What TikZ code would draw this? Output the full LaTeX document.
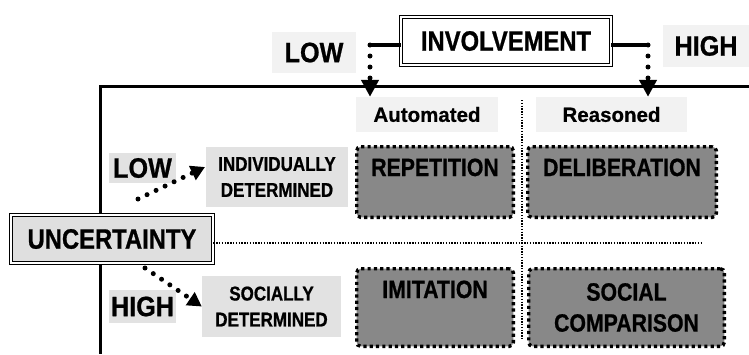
\documentclass[tikz,border=0pt]{standalone}
\usepackage{fontspec}
\setmainfont{Liberation Sans}[FakeBold=0.6]
\newfontfamily\cf{Liberation Sans}[FakeStretch=0.85,FakeBold=0.8]
\newfontfamily\cfl{Liberation Sans}[FakeStretch=0.9,FakeBold=0.8]
\usetikzlibrary{arrows.meta}
\definecolor{lightbg}{HTML}{F2F2F2}
\definecolor{midbg}{HTML}{E2E2E2}
\definecolor{uncbg}{HTML}{DFDFDF}
\definecolor{boxgray}{HTML}{888888}
\begin{document}
\begin{tikzpicture}[x=1pt,y=-1pt,
  frame/.style={line width=3pt},
  conn/.style={line width=3.2pt},
  dotarrow/.style={line width=5pt, line cap=round, dash pattern=on 0pt off 11pt,
    -{Triangle[length=17pt,width=17pt]}},
  dotarrowsm/.style={line width=5pt, line cap=round, dash pattern=on 0pt off 10pt,
    -{Triangle[length=14pt,width=15pt]}},
  thindot/.style={line width=1.6pt, dash pattern=on 1.4pt off 1.4pt},
  dbl/.style={draw=black, line width=1.1pt, double distance=2pt, inner sep=0pt,
    font=\cf\bfseries\fontsize{28}{30}\selectfont},
  bglabel/.style={inner sep=0pt, font=\cfl\bfseries\fontsize{28}{30}\selectfont},
  sublabel/.style={inner sep=0pt, fill=lightbg, font=\bfseries\fontsize{20.5}{22}\selectfont},
  deter/.style={inner sep=0pt, fill=midbg, align=center,
    font=\cf\bfseries\fontsize{20}{26}\selectfont},
  cell/.style={draw=black, fill=boxgray, line width=3.4pt, dash pattern=on 3.2pt off 3.1pt,
    rounded corners=4pt, inner sep=0pt, align=center, text height=18pt,
    font=\cf\bfseries\fontsize{25}{31}\selectfont},
]
\useasboundingbox (0,0) rectangle (749,354);

% frame
\coordinate (corner) at (100,86);
\coordinate (frameR) at (749,86);
\coordinate (frameB) at (100,354);
\draw[frame] (frameR) -- (corner) -- (frameB);

% separators
\coordinate (vtop) at (522,100);
\coordinate (vbot) at (522,340);
\draw[thindot] (vtop) -- (vbot);

% top labels
\node[bglabel, fill=lightbg, minimum width=84pt, minimum height=41pt] (lowtop) at (314,52.5) {LOW};
\node[bglabel, fill=lightbg, minimum width=86pt, minimum height=42pt] (hightop) at (706,46) {HIGH};
\node[dbl, fill=white, minimum width=209.6pt, minimum height=47.6pt] (inv) at (506,41) {INVOLVEMENT};

\node[sublabel, minimum width=142pt, minimum height=35pt] (auto) at (427,114.5) {Automated};
\node[sublabel, minimum width=151pt, minimum height=35pt] (reas) at (611.5,114.5) {Reasoned};

% cells
\node[cell, minimum width=156.6pt, minimum height=70.6pt, text depth=30pt] (rep) at (435,182) {REPETITION};
\node[cell, minimum width=188.6pt, minimum height=70.6pt, text depth=30pt] (delib) at (622,182) {DELIBERATION};
\node[cell, minimum width=156.6pt, minimum height=77.6pt, text depth=37pt] (imit) at (435,307.5) {IMITATION};
\node[cell, minimum width=195.6pt, minimum height=77.6pt, text height=, text depth=] (socc) at (626.5,307.5) {SOCIAL\\COMPARISON};

% left side
\coordinate (hend) at (701,243);
\node[dbl, fill=uncbg, minimum width=201.6pt, minimum height=47.6pt] (unc) at (112,239) {UNCERTAINTY};
\draw[thindot] (unc.east |- hend) -- (hend);

\node[bglabel, fill=midbg, minimum width=67pt, minimum height=30pt] (lowleft) at (142.5,168) {LOW};
\node[bglabel, fill=midbg, minimum width=67pt, minimum height=33pt] (highleft) at (142.5,306.5) {HIGH};
\node[deter, minimum width=142pt, minimum height=60pt] (indiv) at (277,177) {INDIVIDUALLY\\DETERMINED};
\node[deter, minimum width=139pt, minimum height=61pt] (social) at (271.5,306.5) {SOCIALLY\\DETERMINED};

% involvement connectors
\coordinate (cl) at (370,45);
\coordinate (cr) at (648,45);
\draw[conn] (inv.west |- cl) -- (cl);
\draw[conn] (inv.east |- cr) -- (cr);
\draw[dotarrow] (cl) -- (cl |- auto.north);
\draw[dotarrow] (cr) -- (cr |- reas.north);

% uncertainty connectors
\coordinate (ls) at (138,199);
\coordinate (le) at (205,167);
\coordinate (hs) at (145,268);
\draw[dotarrowsm] (ls) -- (le);
\draw[dotarrowsm] (hs) -- (social.west);
\end{tikzpicture}
\end{document}
